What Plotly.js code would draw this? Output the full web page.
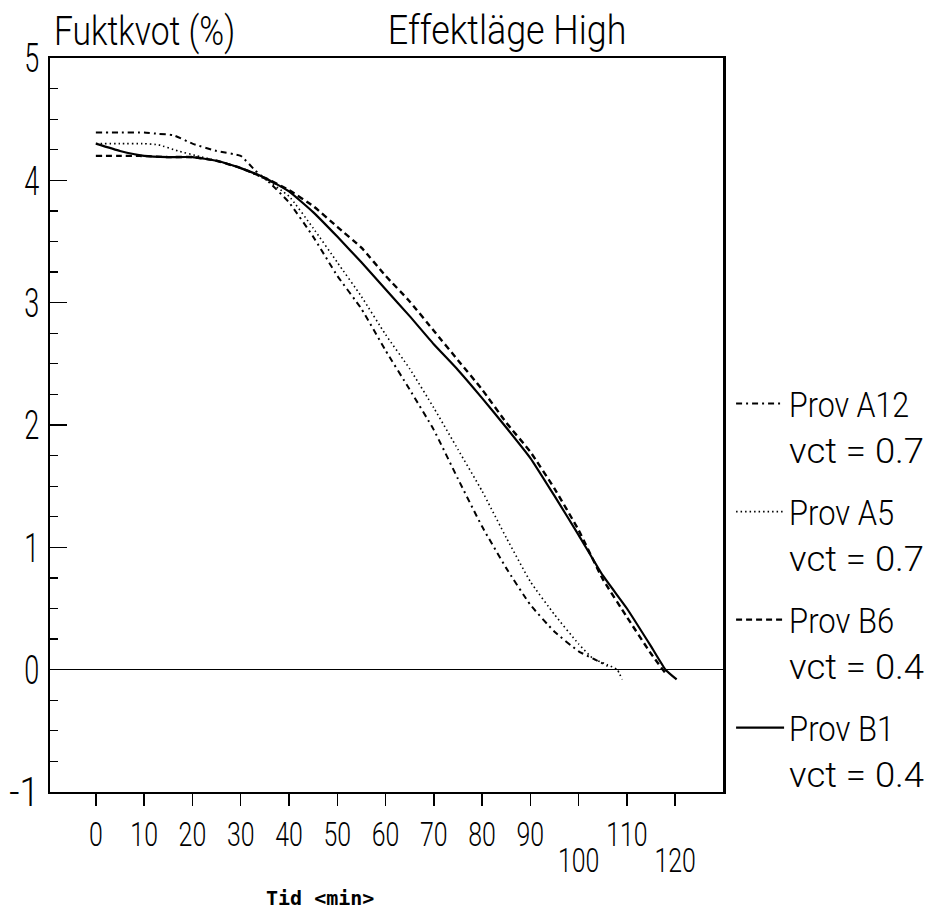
<!DOCTYPE html>
<html>
<head>
<meta charset="utf-8">
<script src="https://cdn.plot.ly/plotly-3.0.1.min.js"></script>
<style>html,body{margin:0;padding:0;background:#fff;}#chart{width:927px;height:909px;}</style>
</head>
<body>
<div id="chart"></div>
<script>
// ---- data ----
const seriesNames = ["Prov A12<br>vct = 0.7", "Prov A5<br>vct = 0.7", "Prov B6<br>vct = 0.4", "Prov B1<br>vct = 0.4"];

const tA12 = [0, 5, 10, 13, 16, 20, 25, 30, 33, 36, 40, 45, 50, 55, 60, 65, 70, 75, 80, 85, 90, 95, 100, 103, 106];
const vA12 = [4.39, 4.39, 4.39, 4.38, 4.37, 4.30, 4.24, 4.20, 4.08, 3.98, 3.82, 3.54, 3.22, 2.95, 2.61, 2.29, 1.96, 1.56, 1.17, 0.83, 0.53, 0.31, 0.15, 0.09, 0.03];

const tA5 = [0, 5, 10, 13, 17, 21, 25, 30, 35, 40, 45, 50, 55, 60, 65, 70, 75, 80, 85, 90, 95, 100, 103, 106, 108, 109];
const vA5 = [4.30, 4.30, 4.30, 4.29, 4.24, 4.20, 4.16, 4.10, 4.01, 3.87, 3.61, 3.33, 3.05, 2.74, 2.46, 2.14, 1.80, 1.46, 1.08, 0.72, 0.45, 0.21, 0.09, 0.04, 0.00, -0.08];

const tB6 = [0, 5, 9, 15, 20, 25, 30, 35, 40, 45, 50, 55, 60, 65, 70, 75, 80, 85, 90, 95, 100, 105, 110, 115, 118];
const vB6 = [4.20, 4.20, 4.20, 4.19, 4.19, 4.16, 4.10, 4.02, 3.92, 3.79, 3.62, 3.45, 3.22, 3.01, 2.77, 2.53, 2.29, 2.02, 1.78, 1.48, 1.14, 0.74, 0.43, 0.13, -0.03];

const tB1 = [0, 5, 10, 15, 20, 25, 30, 35, 40, 45, 50, 55, 60, 65, 70, 75, 80, 85, 90, 95, 100, 105, 110, 115, 118, 120.3];
const vB1 = [4.30, 4.24, 4.20, 4.19, 4.19, 4.16, 4.10, 4.02, 3.91, 3.74, 3.54, 3.33, 3.11, 2.89, 2.66, 2.45, 2.22, 1.98, 1.73, 1.42, 1.10, 0.77, 0.50, 0.19, 0.00, -0.08];

const xTickVals = [0, 10, 20, 30, 40, 50, 60, 70, 80, 90, 100, 110, 120];
const xTickRow1 = ["0", "10", "20", "30", "40", "50", "60", "70", "80", "90", "", "110", ""];
const xTickVals2 = [100, 120];
const xTickRow2 = ["100", "120"];
const yTickVals = [-1, 0, 1, 2, 3, 4, 5];
const yTickText = ["-1", "0", "1", "2", "3", "4", "5"];

const titleText = "Effektläge High";
const yLabelText = "Fuktkvot (%)";
const xLabelText = "Tid &lt;min&gt;";

// ---- styles ----
const FONT = "Roboto, Liberation Sans, sans-serif";
const mk = (t, v, name, dash, width, group) => ({
  x: t, y: v, name: name, type: "scatter", mode: "lines",
  line: {color: "#000", width: width, dash: dash, shape: "spline", smoothing: 0.4},
  legendgroup: group, hoverinfo: "skip"
});

const traces = [
  mk(tA12, vA12, seriesNames[0], "6px,4px,2px,4px", 2, "g1"),
  mk(tA5, vA5, seriesNames[1], "1.5px,3px", 1.6, "g2"),
  mk(tB6, vB6, seriesNames[2], "6px,4px", 2.4, "g3"),
  mk(tB1, vB1, seriesNames[3], "solid", 2.2, "g4"),
  {x: [], y: [], xaxis: "x2", yaxis: "y", showlegend: false, type: "scatter", mode: "lines"}
];

const xRange = [-9.5, 129.9];
const tf = (s) => ({family: FONT, size: s, color: "#000", weight: 300});

const layout = {
  width: 927, height: 909,
  margin: {l: 50, r: 204, t: 58, b: 117, pad: 0, autoexpand: false},
  paper_bgcolor: "#fff", plot_bgcolor: "#fff",
  font: {family: FONT, color: "#000"},
  showlegend: true,
  title: {
    text: titleText, font: tf(40),
    xref: "paper", x: 0.502, xanchor: "left",
    yref: "container", y: 0.967, yanchor: "middle"
  },
  xaxis: {
    range: xRange, showgrid: false, zeroline: false,
    showline: true, linecolor: "#000", linewidth: 2, mirror: true,
    ticks: "outside", ticklen: 12, tickwidth: 1.5, tickcolor: "#000",
    tickmode: "array", tickvals: xTickVals, ticktext: xTickRow1,
    tickfont: tf(33),
    fixedrange: true
  },
  xaxis2: {
    range: xRange, overlaying: "x", anchor: "y", side: "bottom",
    showgrid: false, zeroline: false, showline: false, ticks: "",
    tickmode: "array", tickvals: xTickVals2, ticktext: xTickRow2,
    tickfont: tf(33), ticklabelstandoff: 46, fixedrange: true
  },
  yaxis: {
    range: [-1, 5], showgrid: false,
    zeroline: true, zerolinecolor: "#000", zerolinewidth: 1.5,
    showline: true, linecolor: "#000", linewidth: 2.5, mirror: true,
    ticks: "inside", ticklen: 17, tickwidth: 1.5, tickcolor: "#000",
    tickmode: "array", tickvals: yTickVals, ticktext: yTickText,
    tickfont: tf(41),
    minor: {dtick: 0.25, ticks: "inside", ticklen: 8, tickwidth: 1.2, tickcolor: "#000", showgrid: false},
    fixedrange: true
  },
  legend: {
    x: 1.012, xanchor: "left", y: 0.569, yanchor: "top",
    xref: "paper", yref: "paper",
    font: tf(35),
    valign: "top", itemwidth: 48, tracegroupgap: 14,
    bgcolor: "rgba(0,0,0,0)", borderwidth: 0
  },
  annotations: [
    {text: yLabelText, xref: "paper", yref: "paper", x: 0.003, y: 1.036,
     xanchor: "left", yanchor: "middle", showarrow: false,
     font: tf(40)},
    {text: "<b>" + xLabelText + "</b>", xref: "paper", yref: "paper", x: 0.401, y: -0.1444,
     xanchor: "center", yanchor: "middle", showarrow: false,
     font: {family: "DejaVu Sans Mono, monospace", size: 20, color: "#000"}}
  ]
};

// Plotter lettering is evenly spaced and condensed: fit each text line to a
// fixed width per character (the text stays real, selectable text).
function fitChars(root, sel, perChar, keepLeft) {
  root.querySelectorAll(sel).forEach(t => {
    const lines = t.querySelectorAll("tspan.line");
    const items = lines.length ? Array.from(lines) : [t];
    items.forEach(el => {
      const L = el.getComputedTextLength();
      const n = el.textContent.length;
      if (L > 0 && n > 0) {
        const T = n * perChar;
        el.setAttribute("textLength", T.toFixed(1));
        el.setAttribute("lengthAdjust", "spacingAndGlyphs");
        if (keepLeft && el.getAttribute("x") !== null) {
          const x0 = parseFloat(el.getAttribute("x"));
          el.setAttribute("x", (x0 - (L - T) / 2).toFixed(1));
        }
      }
    });
  });
}

Plotly.newPlot("chart", traces, layout, {displayModeBar: false, staticPlot: true}).then(gd => {
  fitChars(gd, ".xtick text, .x2tick text", 13.8, false);
  fitChars(gd, ".ytick text", 15, false);
  fitChars(gd, ".legendtext", 15, false);
  fitChars(gd, ".gtitle", 15.9, false);
  fitChars(gd, '.annotation[data-index="0"] text', 15.1, true);
});
</script>
</body>
</html>
